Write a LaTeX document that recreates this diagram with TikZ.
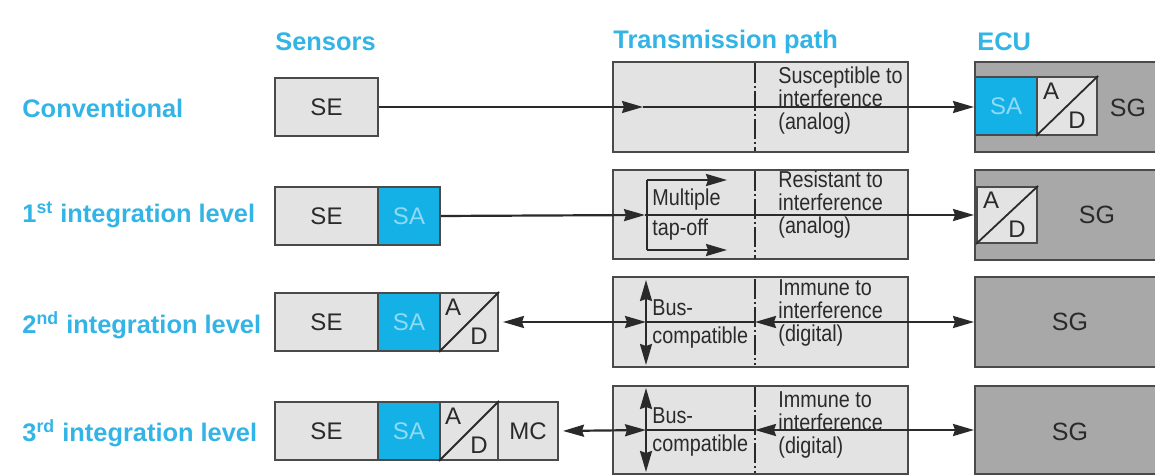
\documentclass[tikz,border=0pt]{standalone}
\usepackage{fontspec}
\setmainfont{Liberation Sans}
\newfontfamily\narrowfont[FakeStretch=0.86]{Liberation Sans}
\usetikzlibrary{arrows.meta,calc}
\definecolor{labcyan}{HTML}{33B4E6}
\definecolor{sablue}{HTML}{14B1E7}
\definecolor{satext}{HTML}{8FDAF5}
\definecolor{lightbox}{HTML}{E3E3E3}
\definecolor{ecugray}{HTML}{A8A8A8}
\definecolor{edge}{HTML}{4A4A4A}
\definecolor{ink}{HTML}{2A2A2A}
\tikzset{
  tip/.tip={Stealth[length=10.5pt,width=6pt,inset=1pt]},
  sbox/.style={draw=edge, line width=1pt, fill=lightbox, inner sep=0pt, minimum height=29pt, text=ink, font=\fontsize{12}{14}\selectfont},
  sabox/.style={sbox, fill=sablue, text=satext},
  tbox/.style={draw=edge, line width=1pt, fill=lightbox, minimum width=147.5pt, inner sep=0pt},
  ebox/.style={draw=edge, line width=1pt, fill=ecugray, minimum width=100pt, inner sep=0pt},
  sgtext/.style={inner sep=0pt, text=ink, font=\fontsize{12.5}{14}\selectfont},
  adletter/.style={inner sep=0pt, text=ink, font=\fontsize{12}{14}\selectfont},
  sigtext/.style={font=\narrowfont\fontsize{11.5}{11.5}\selectfont, align=left, anchor=west, inner sep=0pt, text=ink},
  head/.style={font=\bfseries\fontsize{12.7}{14}\selectfont, text=labcyan, anchor=west, inner sep=0pt},
  sig/.style={line width=1.1pt, draw=ink},
  dashline/.style={line width=1pt, draw=ink, dash pattern=on 10pt off 1.5pt on 1pt off 1.5pt}
}
\begin{document}
\begin{tikzpicture}[x=0.5pt,y=-0.5pt]
\useasboundingbox (0,0) rectangle (1155,475);
\clip (0,0) rectangle (1155,475);
\fill[white] (0,0) rectangle (1155,475);

% headers
\node[head] (hSens) at (275,42) {Sensors};
\node[head] (hTrans) at (613,42) {Transmission path};
\node[head] (hECU) at (977,42) {ECU};

% row labels
\node[head] (lConv) at (22,108) {Conventional};
\node[head] (lI1) at (22,215) {1\textsuperscript{st} integration level};
\node[head] (lI2) at (22,325) {2\textsuperscript{nd} integration level};
\node[head] (lI3) at (22,433) {3\textsuperscript{rd} integration level};

% sensors
\node[sbox, minimum width=51.5pt] (SE1) at (326.5,107) {SE};

\node[sbox, minimum width=51.5pt] (SE2) at (326.5,216) {SE};
\node[sabox, minimum width=31pt] (SA2) at (409,216) {SA};

\node[sbox, minimum width=51.5pt] (SE3) at (326.5,322) {SE};
\node[sabox, minimum width=31pt] (SA3) at (409,322) {SA};
\node[sbox, minimum width=29pt] (AD3) at (469,322) {};

\node[sbox, minimum width=51.5pt] (SE4) at (326.5,431) {SE};
\node[sabox, minimum width=31pt] (SA4) at (409,431) {SA};
\node[sbox, minimum width=29pt] (AD4) at (469,431) {};
\node[sbox, minimum width=30pt] (MC4) at (528,431) {MC};

% transmission boxes
\node[tbox, minimum height=45pt] (T1) at (760.5,107) {};
\node[tbox, minimum height=44.5pt] (T2) at (760.5,215) {};
\node[tbox, minimum height=44.5pt] (T3) at (760.5,322) {};
\node[tbox, minimum height=44pt] (T4) at (760.5,430) {};
\draw[dashline] (755,63) -- (755,151);
\draw[dashline] (755,171) -- (755,259);
\draw[dashline] (755,279) -- (755,365);
\draw[dashline] (755,387) -- (755,473);

% ECU boxes
\node[ebox, minimum height=45pt] (E1) at (1075,107) {};
\node[ebox, minimum height=45pt] (E2) at (1075,215) {};
\node[ebox, minimum height=44.5pt] (E3) at (1075,322) {};
\node[ebox, minimum height=44pt] (E4) at (1075,430) {};
\node[sabox, minimum width=31pt] (SAe) at (1006,106) {SA};
\node[sbox, minimum width=30pt] (ADe1) at (1067,106) {};
\node[sgtext] (SG1) at (1128,108) {SG};
\node[sbox, minimum width=30pt, minimum height=28pt] (ADe2) at (1007,215) {};
\node[sgtext] (SG2) at (1097,215) {SG};
\node[sgtext] (SG3) at (1070,322) {SG};
\node[sgtext] (SG4) at (1070,432) {SG};

% A/D converters
\foreach \b in {AD3,AD4,ADe1,ADe2}{
  \draw[line width=0.9pt, draw=ink] (\b.south west) -- (\b.north east);
  \node[adletter] (\b-A) at ($(\b.center)+(-16,-15)$) {A};
  \node[adletter] (\b-D) at ($(\b.center)+(10,14)$) {D};
}

% transmission texts
\node[sigtext] (tx1) at (778,101) {Susceptible to\\interference\\(analog)};
\node[sigtext] (tx2a) at (652,215) {Multiple\\[3.5pt]tap-off};
\node[sigtext] (tx2b) at (778,205) {Resistant to\\interference\\(analog)};
\node[sigtext] (tx3a) at (652,324) {Bus-\\[2.5pt]compatible};
\node[sigtext] (tx3b) at (778,313) {Immune to\\interference\\(digital)};
\node[sigtext] (tx4a) at (652,432) {Bus-\\[2.5pt]compatible};
\node[sigtext] (tx4b) at (778,425) {Immune to\\interference\\(digital)};

% row 1 connectors
\coordinate (m1) at (643,107);
\draw[sig,-tip] (SE1.east) -- (m1);
\draw[sig,-tip] (m1) -- (E1.west);

% row 2 connectors
\coordinate (m2) at (645,215);
\coordinate (tapT) at (647,180);
\coordinate (tapB) at (647,250);
\coordinate (tapTe) at (727,180);
\coordinate (tapBe) at (727,250);
\draw[sig,-tip] (SA2.east) -- (m2);
\draw[sig,-tip] (m2) -- (E2.west);
\draw[sig] (tapT) -- (tapB);
\draw[sig,-tip] (tapT) -- (tapTe);
\draw[sig,-tip] (tapB) -- (tapBe);

% row 3 connectors
\coordinate (b3) at (646,322);
\coordinate (d3) at (755,322);
\coordinate (bt3) at (646,280);
\coordinate (bb3) at (646,365);
\draw[sig,tip-tip,shorten <=2pt] (AD3.east) -- (b3);
\draw[sig] (b3) -- (d3);
\draw[sig,tip-tip] (d3) -- (E3.west);
\draw[sig,tip-tip] (bt3) -- (bb3);

% row 4 connectors
\coordinate (b4) at (646,430);
\coordinate (d4) at (755,430);
\coordinate (bt4) at (646,388);
\coordinate (bb4) at (646,472);
\draw[sig,tip-tip,shorten <=2pt] (MC4.east) -- (b4);
\draw[sig] (b4) -- (d4);
\draw[sig,tip-tip] (d4) -- (E4.west);
\draw[sig,tip-tip] (bt4) -- (bb4);
\end{tikzpicture}
\end{document}
